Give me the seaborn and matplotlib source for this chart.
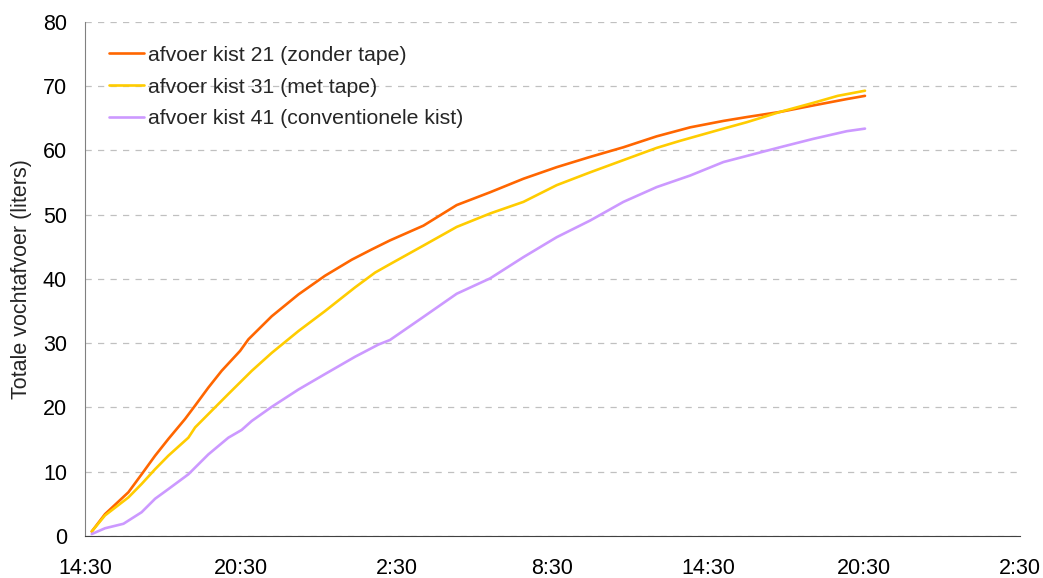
import seaborn as sns
import numpy as np
import pandas as pd
import matplotlib.pyplot as plt

# hours since 14:30
t_21 = [0.26, 0.77, 1.67, 2.18, 2.7, 3.21, 3.85, 4.24, 4.75, 5.26, 5.97, 6.29, 7.19, 8.22,
        9.24, 10.27, 11.04, 11.74, 13.03, 14.31, 15.6, 16.88, 18.16, 19.45, 20.73, 22.01,
        23.3, 24.58, 25.48, 26.76, 28.03, 29.33, 30.03]
v_21 = [0.7, 3.4, 6.8, 9.6, 12.5, 15.1, 18.2, 20.3, 23.1, 25.7, 28.8, 30.6, 34.2, 37.6,
        40.5, 43.0, 44.6, 46.0, 48.3, 51.5, 53.5, 55.6, 57.4, 59.0, 60.5, 62.2,
        63.6, 64.6, 65.2, 66.0, 67.0, 68.0, 68.5]

t_31 = [0.26, 0.77, 1.67, 2.18, 2.7, 3.21, 3.98, 4.24, 4.88, 5.52, 6.42, 7.19, 8.22, 9.24,
        10.4, 11.17, 11.74, 13.03, 14.31, 15.6, 16.88, 18.16, 19.45, 20.73, 22.01, 22.91,
        24.58, 25.48, 26.76, 28.03, 28.98, 30.03]
v_31 = [0.7, 3.2, 6.0, 8.1, 10.4, 12.5, 15.3, 16.9, 19.5, 22.1, 25.7, 28.5, 31.9, 35.0,
        38.7, 41.0, 42.3, 45.2, 48.1, 50.2, 52.0, 54.6, 56.6, 58.5, 60.4, 61.5,
        63.4, 64.4, 66.0, 67.4, 68.5, 69.3]

t_41 = [0.26, 0.77, 1.48, 2.18, 2.7, 3.21, 3.98, 4.75, 5.52, 6.03, 6.42, 7.19, 8.22, 9.24,
        10.4, 11.3, 11.74, 13.03, 14.31, 15.6, 16.88, 18.16, 19.45, 20.73, 22.01, 23.3,
        24.58, 26.76, 28.03, 29.33, 30.03]
v_41 = [0.3, 1.2, 1.9, 3.7, 5.8, 7.3, 9.6, 12.7, 15.3, 16.5, 17.9, 20.1, 22.8, 25.2,
        27.9, 29.8, 30.5, 34.1, 37.7, 40.1, 43.4, 46.5, 49.1, 52.0, 54.3, 56.1,
        58.2, 60.5, 61.8, 63.0, 63.4]

labels = ["afvoer kist 21 (zonder tape)", "afvoer kist 31 (met tape)",
          "afvoer kist 41 (conventionele kist)"]
colors = ["#FF6600", "#FFCC00", "#CC99FF"]
xtick_labels = ["14:30", "20:30", "2:30", "8:30", "14:30", "20:30", "2:30"]

sns.set_style("white")
plt.rcParams['font.family'] = ['Liberation Sans', 'DejaVu Sans']

fig = plt.figure(figsize=(10.43, 5.78), dpi=100)
ax = fig.add_axes([0.0815, 0.0727, 0.8965, 0.8893])

series = [(t_21, v_21), (t_31, v_31), (t_41, v_41)]
for (t, v), lab, col in zip(series, labels, colors):
    df = pd.DataFrame({"uur": t, "liters": v})
    sns.lineplot(data=df, x="uur", y="liters", ax=ax, color=col, linewidth=1.9, label=lab)

ax.set_xlim(0, 36)
ax.set_ylim(0, 80)
ax.set_xticks(np.arange(0, 37, 6))
ax.set_xticklabels(xtick_labels)
ax.set_yticks(np.arange(0, 81, 10))
ax.yaxis.grid(True, color="#c0c0c0", linestyle=(0, (5, 5)), linewidth=0.9)
ax.xaxis.grid(False)

for s in ["top", "right"]:
    ax.spines[s].set_visible(False)
ax.spines["left"].set_color("#808080")
ax.spines["bottom"].set_color("#404040")
ax.tick_params(axis="both", labelsize=15.5, direction="out", length=6, width=0.9,
               colors="#000000")
ax.tick_params(axis="y", color="#808080", pad=7)
ax.tick_params(axis="x", pad=10)

ax.set_xlabel("")
ax.set_ylabel("Totale vochtafvoer (liters)", fontsize=15.5, labelpad=8)

ax.legend(loc="upper left", bbox_to_anchor=(0.017, 0.97), frameon=False, fontsize=15.3,
          handlelength=1.65, handletextpad=0.15, labelspacing=0.6, borderaxespad=0)

fig.savefig("out.png", dpi=100)
